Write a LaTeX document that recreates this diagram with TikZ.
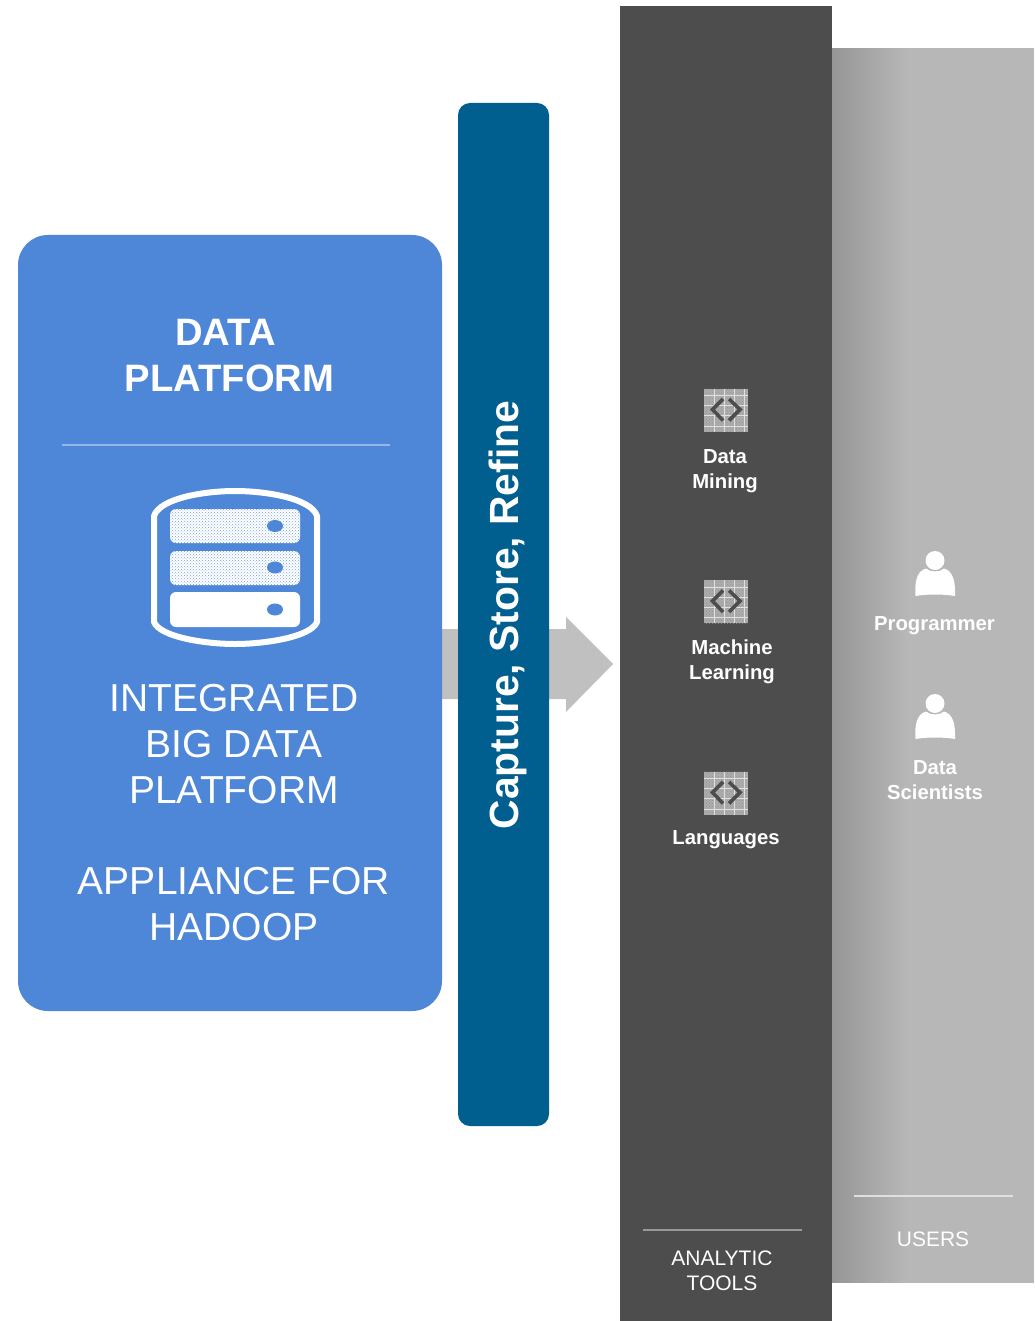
\documentclass[tikz,border=0pt]{standalone}
\usepackage{fontspec}
\setmainfont{Liberation Sans}
\usetikzlibrary{patterns}
\definecolor{platblue}{HTML}{4F87D8}
\definecolor{barteal}{HTML}{005F8E}
\definecolor{darkpanel}{HTML}{4D4D4D}
\definecolor{userpanel}{HTML}{B7B7B7}
\definecolor{shadestart}{HTML}{969696}
\definecolor{arrowgrey}{HTML}{C0C0C0}
\newcommand{\fsz}[2]{\fontsize{#1}{#2}\selectfont}
\tikzset{
  x=1pt,y=-1pt,
  toolicon/.pic={
    \fill[fill=black!32!white] (-22,-21.5) rectangle (22,21.5);
    \fill[pattern=crosshatch dots,pattern color=darkpanel!60!white] (-22,-21.5) rectangle (22,21.5);
    \draw[white,opacity=.65,line width=1pt]
      (-12,-21.5)--(-12,21.5) (-2,-21.5)--(-2,21.5) (8,-21.5)--(8,21.5) (18,-21.5)--(18,21.5)
      (-22,-14.5)--(22,-14.5) (-22,-4.5)--(22,-4.5) (-22,5.5)--(22,5.5) (-22,16)--(22,16);
    \draw[darkpanel,line width=3.6pt] (-3,-11) -- (-13.5,-.5) -- (-3,10.5) (3,-11) -- (14,-.5) -- (3,10.5);
  },
  personicon/.pic={
    \fill[white] (0,-15.5) circle (9.5);
    \fill[white] (-19.5,20) .. controls (-20.5,5) and (-18,-5) .. (-9,-7.5)
      .. controls (-5,-3.5) and (5,-3.5) .. (9,-7.5)
      .. controls (18,-5) and (20.5,5) .. (20,20)
      .. controls (8,18) and (-8,18) .. (-19.5,20) -- cycle;
  },
  bold label/.style={text=white,font=\bfseries\fsz{20.3}{25},align=center,inner sep=0},
  plain label/.style={text=white,font=\fsz{21}{25},align=center,inner sep=0},
  big label/.style={text=white,font=\fsz{39}{46},align=center,inner sep=0},
  rack/.style={fill=white,rounded corners=6pt},
  slot/.style={fill=platblue},
}
\begin{document}
\begin{tikzpicture}
\useasboundingbox (0,0) rectangle (1034,1321);
\fill[white] (0,0) rectangle (1034,1321);
% users panel, darkening towards its left edge
\fill[shadestart] (832,48) rectangle (1034,1283);
\foreach \i in {1,...,37} {
  \pgfmathsetmacro{\xs}{832+2*\i}
  \pgfmathtruncatemacro{\pc}{round(100*\i/37)}
  \fill[userpanel!\pc!shadestart] (\xs,48) rectangle (1034,1283);
}
% analytic tools panel
\fill[darkpanel] (620,6) rectangle (832,1321);
% arrow
\fill[arrowgrey] (442,629) -- (566,629) -- (566,617) -- (613,664) -- (566,712) -- (566,699) -- (442,699) -- cycle;
% blue platform
\fill[platblue,rounded corners=30pt] (18,235) rectangle (442,1011);
% teal bar
\fill[barteal,rounded corners=12pt] (458,103) rectangle (549,1126);
\node[text=white,font=\bfseries\fsz{40.8}{46},inner sep=0,rotate=90] (bar) at (508,615) {Capture, Store, Refine};
% platform text
\node[text=white,font=\bfseries\fsz{38.2}{46},align=center,inner sep=0] (title) at (229.5,356) {DATA\kern8pt\\PLATFORM};
\draw[white!40!platblue,line width=2pt] (62,445) -- (390,445);
% server icon
\draw[white,line width=6pt,line join=round] (154,516) .. controls (160,498) and (205,491) .. (235,491) .. controls (265,491) and (311,498) .. (317,516) -- (317,622) .. controls (311,637) and (265,644) .. (235,644) .. controls (205,644) and (160,637) .. (154,622) -- cycle;
\fill[rack] (170,509) rectangle (300,543);
\fill[rack] (170,551) rectangle (300,585);
\fill[pattern=crosshatch dots,pattern color=platblue!75!white,rounded corners=6pt] (170,509) rectangle (300,543);
\fill[pattern=crosshatch dots,pattern color=platblue!75!white,rounded corners=6pt] (170,551) rectangle (300,585);
\fill[rack] (170,592) rectangle (300,627);
\fill[slot] (275,526) ellipse (8 and 6);
\fill[slot] (275,567.5) ellipse (8 and 6);
\fill[slot] (275,609.5) ellipse (8 and 6);
\node[big label] (integrated) at (234,744) {INTEGRATED\\BIG DATA\\PLATFORM};
\node[big label] (appliance) at (234,904) {APPLIANCE FOR\\HADOOP};
% tools
\pic at (726,410) {toolicon};
\pic at (726,601.5) {toolicon};
\pic at (726,793) {toolicon};
\node[bold label] (mining) at (725,471.5) {Data\\Mining};
\node[bold label] (learning) at (732,661.5) {Machine\\Learning};
\node[bold label] (languages) at (726,840) {Languages};
\draw[black!40!white,line width=2.5pt] (643,1230) -- (802,1230);
\node[plain label] (analytic) at (722,1271) {ANALYTIC\\TOOLS};
% users
\pic at (935,576) {personicon};
\pic at (935,719) {personicon};
\node[bold label] (programmer) at (934.5,626) {Programmer};
\node[bold label] (scientists) at (935,780) {Data\\Scientists};
\draw[white!55!userpanel,line width=1.5pt] (854,1196) -- (1013,1196);
\node[plain label] (users) at (933,1239) {USERS};
\end{tikzpicture}
\end{document}
